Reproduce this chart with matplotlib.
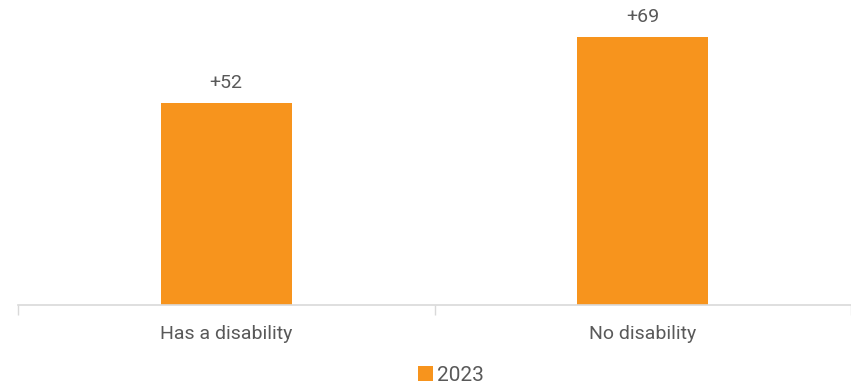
import matplotlib.pyplot as plt

plt.rcParams['font.family'] = ['Roboto', 'DejaVu Sans']

categories = ['Has a disability', 'No disability']
values_2023 = [52, 69]
series_name = '2023'

bar_color = '#F7941D'
text_color = '#595959'
axis_color = '#D9D9D9'

fig = plt.figure(figsize=(8.51, 3.92), dpi=100)
ax = fig.add_axes([18 / 851, 0.2207, 833 / 851, 0.694])

x = range(len(categories))
bars = ax.bar(x, values_2023, width=0.314, color=bar_color, label=series_name, zorder=2)

for b, v in zip(bars, values_2023):
    ax.annotate(f'+{v}', (b.get_x() + b.get_width() / 2, v),
                xytext=(0, 8), textcoords='offset points',
                ha='center', va='bottom', fontsize=14, color=text_color)

ax.set_xlim(-0.5, 1.5)
ax.set_ylim(0, 70)
ax.set_xticks(list(x))
ax.set_xticklabels(categories, fontsize=14, color=text_color)
ax.tick_params(axis='x', length=0, pad=14)
ax.set_yticks([])

# category separators below the axis line
ax.set_xticks([-0.5, 0.5, 1.5], minor=True)
ax.tick_params(axis='x', which='minor', length=7, width=1, color=axis_color)

for side in ['top', 'right', 'left']:
    ax.spines[side].set_visible(False)
ax.spines['bottom'].set_color(axis_color)
ax.spines['bottom'].set_linewidth(1.2)

fig.legend(loc='lower center', bbox_to_anchor=(0.53, -0.03), frameon=False,
           fontsize=15, handlelength=0.7, handleheight=0.7, handletextpad=0.2,
           labelcolor=text_color)

fig.savefig('out.png', dpi=100)
